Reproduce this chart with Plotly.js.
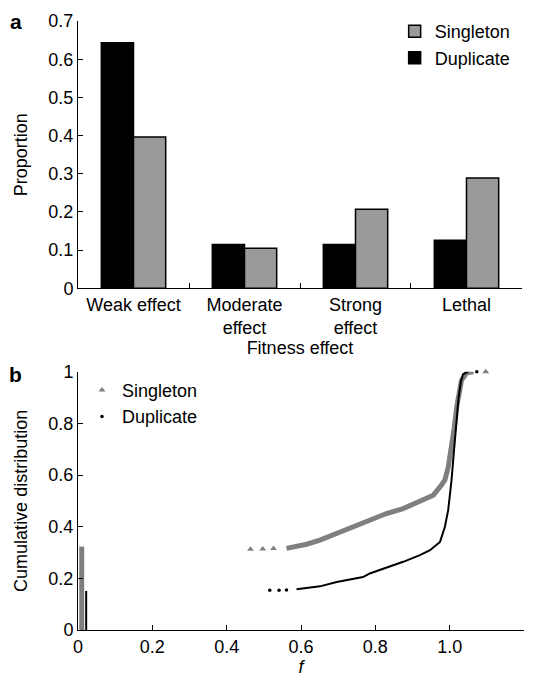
<!DOCTYPE html>
<html>
<head>
<meta charset="utf-8">
<script src="https://cdn.plot.ly/plotly-3.0.1.min.js"></script>
<style>html,body{margin:0;padding:0;background:#fff;}#chart{width:535px;height:677px;}</style>
</head>
<body>
<div id="chart"></div>
<script>
// Panel a data
const categories = ["Weak effect", "Moderate<br>effect", "Strong<br>effect", "Lethal"];
const duplicateProp = [0.643, 0.115, 0.115, 0.126];
const singletonProp = [0.396, 0.105, 0.207, 0.289];

// Panel b data (cumulative distribution of fitness f)
const singletonLineF = [0.01, 0.01, null, 0.561, 0.615, 0.651, 0.696, 0.740, 0.785, 0.830, 0.875, 0.920, 0.956, 0.974, 0.987, 0.996, 1.005, 1.012, 1.019, 1.025, 1.032, 1.046, 1.064];
const singletonLineC = [0, 0.323, null, 0.316, 0.332, 0.348, 0.374, 0.399, 0.428, 0.451, 0.470, 0.496, 0.522, 0.554, 0.580, 0.630, 0.703, 0.780, 0.864, 0.920, 0.968, 0.996, 1.0];
const singletonDotsF = [0.464, 0.497, 0.526, 1.097];
const singletonDotsC = [0.313, 0.314, 0.316, 1.0];

const duplicateLineF = [0.022, 0.022, null, 0.588, 0.651, 0.696, 0.740, 0.767, 0.785, 0.830, 0.875, 0.920, 0.947, 0.974, 0.987, 0.996, 1.005, 1.012, 1.018, 1.024, 1.030, 1.036, 1.050];
const duplicateLineC = [0, 0.151, null, 0.158, 0.169, 0.186, 0.199, 0.205, 0.219, 0.240, 0.264, 0.290, 0.309, 0.341, 0.399, 0.464, 0.580, 0.700, 0.800, 0.900, 0.960, 0.990, 1.0];
const duplicateDotsF = [0.516, 0.541, 0.561, 1.073];
const duplicateDotsC = [0.154, 0.154, 0.155, 1.0];

const xTickVals = [0, 0.2, 0.4, 0.6, 0.8, 1.0, 1.2];
const xTickText = ["0", "0.2", "0.4", "0.6", "0.8", "1.0", "1.2"];
const yTickVals = [0, 0.2, 0.4, 0.6, 0.8, 1];
const yTickText = ["0", "0.2", "0.4", "0.6", "0.8", "1"];

const FONT = "Liberation Sans, Arial, Helvetica, sans-serif";
const GRAY_BAR = "#9a9a9a";
const GRAY_LINE = "#7f7f7f";

const traces = [
  {type: "bar", x: categories, y: duplicateProp, name: "Duplicate", xaxis: "x", yaxis: "y",
   marker: {color: "#000", line: {color: "#000", width: 1.5}}, legend: "legend", legendrank: 2, hoverinfo: "y"},
  {type: "bar", x: categories, y: singletonProp, name: "Singleton", xaxis: "x", yaxis: "y",
   marker: {color: GRAY_BAR, line: {color: "#000", width: 1.5}}, legend: "legend", legendrank: 1, hoverinfo: "y"},

  {type: "scatter", mode: "lines", x: singletonLineF, y: singletonLineC, xaxis: "x2", yaxis: "y2",
   line: {color: GRAY_LINE, width: 5}, connectgaps: false, showlegend: false, cliponaxis: false},
  {type: "scatter", mode: "lines", x: duplicateLineF, y: duplicateLineC, xaxis: "x2", yaxis: "y2",
   line: {color: "#000", width: 2}, connectgaps: false, showlegend: false, cliponaxis: false},
  {type: "scatter", mode: "markers", x: singletonDotsF, y: singletonDotsC, xaxis: "x2", yaxis: "y2",
   name: "Singleton", legend: "legend2", marker: {symbol: "triangle-up", size: 6, color: GRAY_LINE}, cliponaxis: false},
  {type: "scatter", mode: "markers", x: duplicateDotsF, y: duplicateDotsC, xaxis: "x2", yaxis: "y2",
   name: "Duplicate", legend: "legend2", marker: {symbol: "circle", size: 3.5, color: "#000"}, cliponaxis: false}
];

const axisCommon = {
  showgrid: false, zeroline: false, showline: true, linecolor: "#000", linewidth: 1,
  ticks: "inside", ticklen: 5, tickcolor: "#000", tickwidth: 1,
  tickfont: {family: FONT, size: 18, color: "#000"}
};

const layout = {
  width: 535, height: 677,
  margin: {l: 78, r: 11, t: 21, b: 47},
  paper_bgcolor: "#fff", plot_bgcolor: "#fff",
  font: {family: FONT, size: 18, color: "#000"},
  barmode: "group", bargap: 0.42, bargroupgap: 0,
  xaxis: Object.assign({}, axisCommon, {
    domain: [0, 0.9955], anchor: "y", type: "category", tickson: "boundaries",
    title: {text: "Fitness effect", font: {family: FONT, size: 18}, standoff: 0}
  }),
  yaxis: Object.assign({}, axisCommon, {
    domain: [0.561, 1], anchor: "x", range: [0, 0.7], dtick: 0.1, tick0: 0,
    title: {text: "Proportion", font: {family: FONT, size: 18}, standoff: 16}
  }),
  xaxis2: Object.assign({}, axisCommon, {
    domain: [0, 1], anchor: "y2", range: [0, 1.2], tickvals: xTickVals, ticktext: xTickText,
    title: {text: "<i>f</i>", font: {family: FONT, size: 18}, standoff: 5}
  }),
  yaxis2: Object.assign({}, axisCommon, {
    domain: [0, 0.4241], anchor: "x2", range: [0, 1], tickvals: yTickVals, ticktext: yTickText,
    title: {text: "Cumulative distribution", font: {family: FONT, size: 18}, standoff: 16}
  }),
  legend: {x: 0.71, xanchor: "left", y: 1.013, yanchor: "top", bgcolor: "rgba(0,0,0,0)",
           font: {family: FONT, size: 18, color: "#000"}, tracegroupgap: 0},
  legend2: {x: 0.009, xanchor: "left", y: 0.424, yanchor: "top", bgcolor: "rgba(0,0,0,0)",
            font: {family: FONT, size: 18, color: "#000"}},
  annotations: [
    {text: "<b>a</b>", xref: "paper", yref: "paper", x: -0.139, y: 1.0, xanchor: "center", yanchor: "middle",
     showarrow: false, font: {family: FONT, size: 21, color: "#000"}},
    {text: "<b>b</b>", xref: "paper", yref: "paper", x: -0.141, y: 0.4195, xanchor: "center", yanchor: "middle",
     showarrow: false, font: {family: FONT, size: 21, color: "#000"}}
  ],
  showlegend: true
};

Plotly.newPlot("chart", traces, layout, {displayModeBar: false, staticPlot: true});
</script>
</body>
</html>
